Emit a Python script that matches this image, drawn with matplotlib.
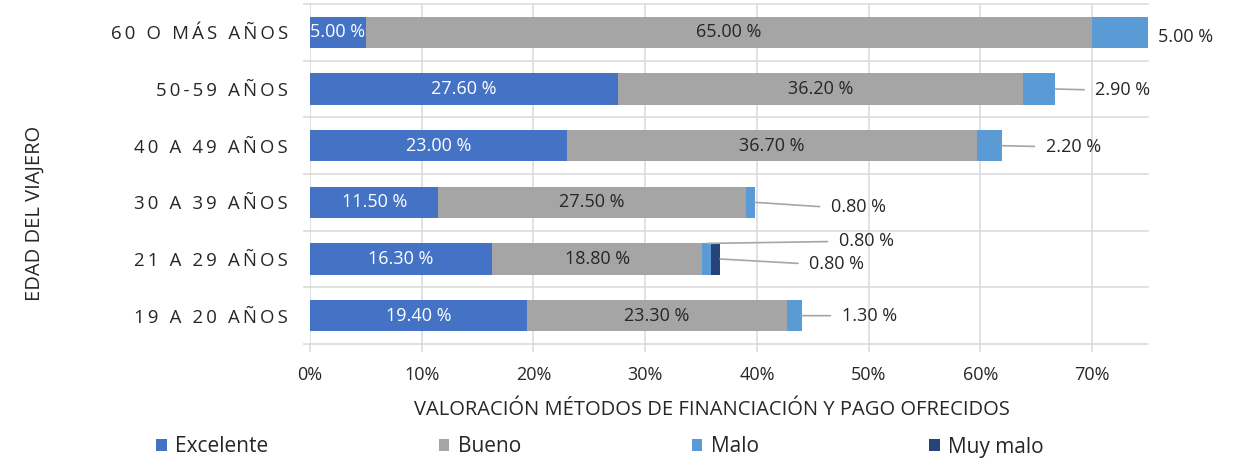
import matplotlib
matplotlib.use("Agg")
import matplotlib.pyplot as plt
from matplotlib.patches import Patch
import numpy as np

plt.rcParams['font.family'] = ['Open Sans', 'DejaVu Sans']

# ---- data ----
categories = ["60 O MÁS AÑOS", "50-59 AÑOS", "40 A 49 AÑOS",
              "30 A 39 AÑOS", "21 A 29 AÑOS", "19 A 20 AÑOS"]
excelente = [5.00, 27.60, 23.00, 11.50, 16.30, 19.40]
bueno = [65.00, 36.20, 36.70, 27.50, 18.80, 23.30]
malo = [5.00, 2.90, 2.20, 0.80, 0.80, 1.30]
muy_malo = [0.0, 0.0, 0.0, 0.0, 0.80, 0.0]
series_names = ["Excelente", "Bueno", "Malo", "Muy malo"]
x_ticks = [0, 10, 20, 30, 40, 50, 60, 70]
x_title = "VALORACIÓN MÉTODOS DE FINANCIACIÓN Y PAGO OFRECIDOS"
y_title = "EDAD DEL VIAJERO"

# ---- style ----
colors = ["#4472C4", "#A5A5A5", "#5B9BD5", "#264478"]
grid_c = "#D9D9D9"
text_c = "#262626"
line_c = "#A6A6A6"
# label placement for outside labels: (anchor, dx px, dy px, leader line)
malo_place = [("end", 10, -5, False), ("end", 40, -1, True), ("end", 44, -1, True),
              ("end", 76, -5, True), ("top", 132, 2, True), ("end", 40, 0, True)]
muy_place = {4: ("right", 89, -5, True)}

W, H = 1243, 472
fig = plt.figure(figsize=(W / 100, H / 100), dpi=100)
ax = fig.add_axes([310 / W, 128 / H, 838 / W, 340 / H])

n = len(categories)
y = np.arange(n)[::-1]
bh = 0.55

left = np.zeros(n)
data = [excelente, bueno, malo, muy_malo]
lefts = []
for vals, c in zip(data, colors):
    vals = np.array(vals)
    ax.barh(y, vals, left=left, height=bh, color=c, zorder=3)
    lefts.append(left.copy())
    left = left + vals

# inside labels
for i in range(n):
    ax.text(lefts[0][i] + excelente[i] / 2, y[i], f"{excelente[i]:.2f} %",
            ha="center", va="center", color="white", fontsize=13, zorder=4)
    ax.text(lefts[1][i] + bueno[i] / 2, y[i], f"{bueno[i]:.2f} %",
            ha="center", va="center", color=text_c, fontsize=13, zorder=4)


def outside(i, start, val, place):
    anchor, dx, dy, line = place
    if anchor == "end":
        xy = (start + val, y[i])
    elif anchor == "top":
        xy = (start + val / 2, y[i] + bh / 2)
    else:
        xy = (start + val, y[i])
    ap = None
    if line:
        ap = dict(arrowstyle="-", color=line_c, lw=1.2, shrinkA=6, shrinkB=0,
                  relpos=(0, 0.5))
    ax.annotate(f"{val:.2f} %", xy=xy, xytext=(dx, dy), textcoords="offset pixels",
                ha="left", va="center", fontsize=13, color=text_c,
                arrowprops=ap, annotation_clip=False, zorder=5)


for i in range(n):
    if malo[i] > 0:
        outside(i, lefts[2][i], malo[i], malo_place[i])
    if muy_malo[i] > 0:
        outside(i, lefts[3][i], muy_malo[i], muy_place[i])

# axes
ax.set_xlim(0, 75)
ax.set_ylim(-0.5, n - 0.5)
ax.set_xticks(x_ticks)
ax.set_xticklabels([f"{t}%" for t in x_ticks], fontsize=13, color=text_c)


def spaced(s):
    return "\u2009".join(s)


ax.set_yticks(y)
ax.set_yticklabels([spaced(c) for c in categories], fontsize=13.4, color=text_c)
bounds = np.arange(n + 1) - 0.5
ax.set_yticks(bounds, minor=True)
ax.tick_params(axis="y", which="major", length=0, pad=16)
ax.tick_params(axis="y", which="minor", length=5, width=1.1, color=grid_c)
ax.tick_params(axis="x", which="major", length=6, width=1.1, color=grid_c, pad=10)
ax.grid(axis="x", which="major", color=grid_c, lw=1.1, zorder=0)
for b in bounds:
    ax.axhline(b, color=grid_c, lw=1.1, zorder=0, clip_on=False)
ax.set_axisbelow(True)
for s in ax.spines.values():
    s.set_visible(False)

fig.text(712 / W, 1 - 410 / H, x_title, ha="center", va="center",
         fontsize=14.5, color=text_c)
fig.text(35 / W, 1 - 213 / H, y_title, ha="center", va="center",
         rotation=90, fontsize=14.5, color=text_c)

handles = [Patch(facecolor=c, edgecolor="none") for c in colors]
fig.legend(handles, series_names, loc="center", bbox_to_anchor=(600 / W, 1 - 447 / H),
           ncol=4, frameon=False, fontsize=15, handlelength=0.5, handleheight=0.5,
           handletextpad=0.4, columnspacing=8.2, labelcolor=text_c)

fig.savefig("out.png", dpi=100)
